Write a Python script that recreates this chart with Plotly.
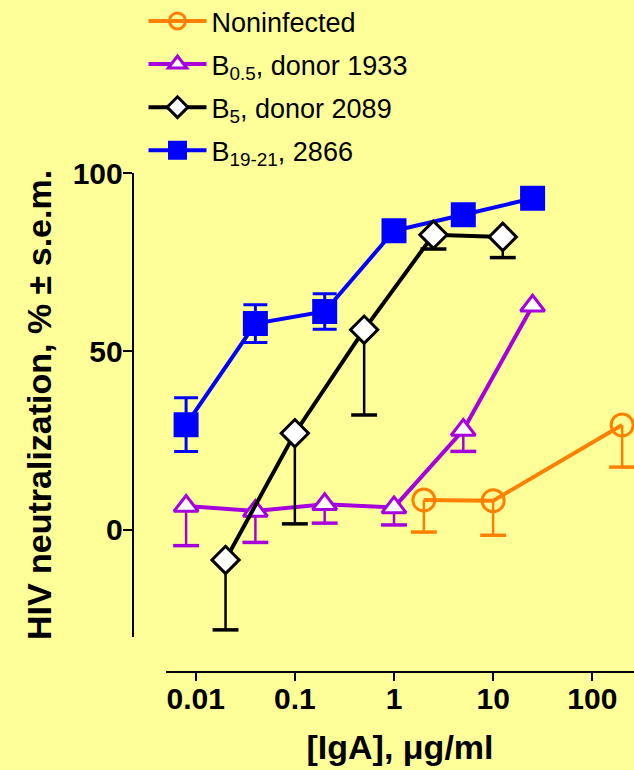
import plotly.graph_objects as go

# ---------------- data ----------------
conc_noninf = [2, 10, 200]
neut_noninf = [8.4, 8.2, 29.4]
sem_noninf = [9.0, 9.7, 11.8]

conc_b05 = [0.008, 0.04, 0.2, 1, 5, 25]
neut_b05 = [6.7, 5.3, 7.2, 6.3, 28.0, 62.8]
sem_b05 = [11.1, 8.8, 5.3, 4.9, 6.0, 0.0]

conc_b5 = [0.02, 0.1, 0.5, 2.5, 12.5]
neut_b5 = [-8.4, 27.1, 56.1, 82.7, 82.1]
sem_b5 = [19.6, 25.4, 23.9, 4.0, 5.8]

conc_b19 = [0.008, 0.04, 0.2, 1, 5, 25]
neut_b19 = [29.5, 57.8, 61.2, 83.8, 88.3, 92.9]
sem_b19 = [7.5, 5.3, 5.0, 1.0, 1.0, 1.0]

x_tickvals = [0.01, 0.1, 1, 10, 100]
x_ticktext = ["0.01", "0.1", "1", "10", "100"]
y_tickvals = [0, 50, 100]
y_ticktext = ["0", "50", "100"]

names = ["Noninfected", "B<sub>0.5</sub>, donor 1933",
         "B<sub>5</sub>, donor 2089", "B<sub>19-21</sub>, 2866"]

BG = "#FFFF99"
ORANGE = "#FF8000"
PURPLE = "#A600DD"
BLACK = "#000000"
BLUE = "#0000FF"
FONT = "Liberation Sans, Arial, sans-serif"

fig = go.Figure()


def caps(x, y, s, color, group):
    cx = [xi for xi, si in zip(x, s) if si > 0]
    cy = [yi - si for yi, si in zip(y, s) if si > 0]
    fig.add_trace(go.Scatter(
        x=cx, y=cy, mode="markers", legendgroup=group, showlegend=False,
        hoverinfo="skip", cliponaxis=False,
        marker=dict(symbol="line-ew", size=18.5, color=color,
                    line=dict(width=3.5, color=color))))


def series(x, y, s, name, color, symbol, fill, rank, group, size, onesided=True):
    if onesided:
        err = dict(type="data", symmetric=False, array=[0] * len(s),
                   arrayminus=s, width=0, thickness=2.5, color=color)
    else:
        err = dict(type="data", symmetric=True, array=s, width=12,
                   thickness=3, color=color)
    fig.add_trace(go.Scatter(
        x=x, y=y, mode="lines+markers", name=name, legendgroup=group,
        legendrank=rank, cliponaxis=False,
        line=dict(color=color, width=4),
        marker=dict(symbol=symbol, size=size, color=fill,
                    line=dict(width=3, color=color)),
        error_y=err))


caps(conc_noninf, neut_noninf, sem_noninf, ORANGE, "g1")
series(conc_noninf, neut_noninf, sem_noninf, names[0], ORANGE,
       "circle-open", ORANGE, 1, "g1", 22)

caps(conc_b05, neut_b05, sem_b05, PURPLE, "g2")
series(conc_b05, neut_b05, sem_b05, names[1], PURPLE,
       "triangle-up", "white", 2, "g2", 21)

series(conc_b19, neut_b19, sem_b19, names[3], BLUE,
       "square", BLUE, 4, "g4", 22, onesided=False)

caps(conc_b5, neut_b5, sem_b5, BLACK, "g3")
series(conc_b5, neut_b5, sem_b5, names[2], BLACK,
       "diamond", "white", 3, "g3", 21)

W, H = 634, 770
fig.update_layout(
    width=W, height=H,
    margin=dict(l=0, r=0, t=0, b=0, autoexpand=False),
    paper_bgcolor=BG, plot_bgcolor=BG,
    font=dict(family=FONT, color="black"),
    showlegend=True,
    legend=dict(x=143.5 / W, y=1.004, xanchor="left", yanchor="top",
                bgcolor="rgba(0,0,0,0)", tracegroupgap=5,
                font=dict(family=FONT, size=27, color="black"),
                itemwidth=58),
    xaxis=dict(
        type="log", range=[-2.2995, 2.4206], domain=[166 / W, 1.0],
        anchor="free", position=1 - 671.7 / H, automargin=False,
        showline=True, linecolor="black", linewidth=2,
        ticks="outside", ticklen=8, tickwidth=2, tickcolor="black",
        tickvals=x_tickvals, ticktext=x_ticktext, ticklabelstandoff=-8,
        tickfont=dict(family=FONT, size=30, color="black", weight="bold"),
        showgrid=False, zeroline=False,
        title=dict(text="[IgA], μg/ml", standoff=20,
                   font=dict(family=FONT, size=34, color="black", weight="bold")),
    ),
    yaxis=dict(
        range=[-30, 100], domain=[1 - 637 / H, 1 - 173 / H],
        anchor="free", position=132.7 / W, automargin=False,
        showline=True, linecolor="black", linewidth=2,
        ticks="outside", ticklen=9, tickwidth=2, tickcolor="black",
        tickvals=y_tickvals, ticktext=y_ticktext, ticklabelstandoff=-6,
        tickfont=dict(family=FONT, size=30, color="black", weight="bold"),
        showgrid=False, zeroline=False,
        title=dict(text="HIV neutralization, % ± s.e.m.", standoff=10,
                   font=dict(family=FONT, size=34, color="black", weight="bold")),
    ),
)

fig.write_html(
    "out.html",
    config={"displayModeBar": False},
    post_script="document.body.style.margin='0';"
                "document.body.style.background='" + BG + "';",
)
